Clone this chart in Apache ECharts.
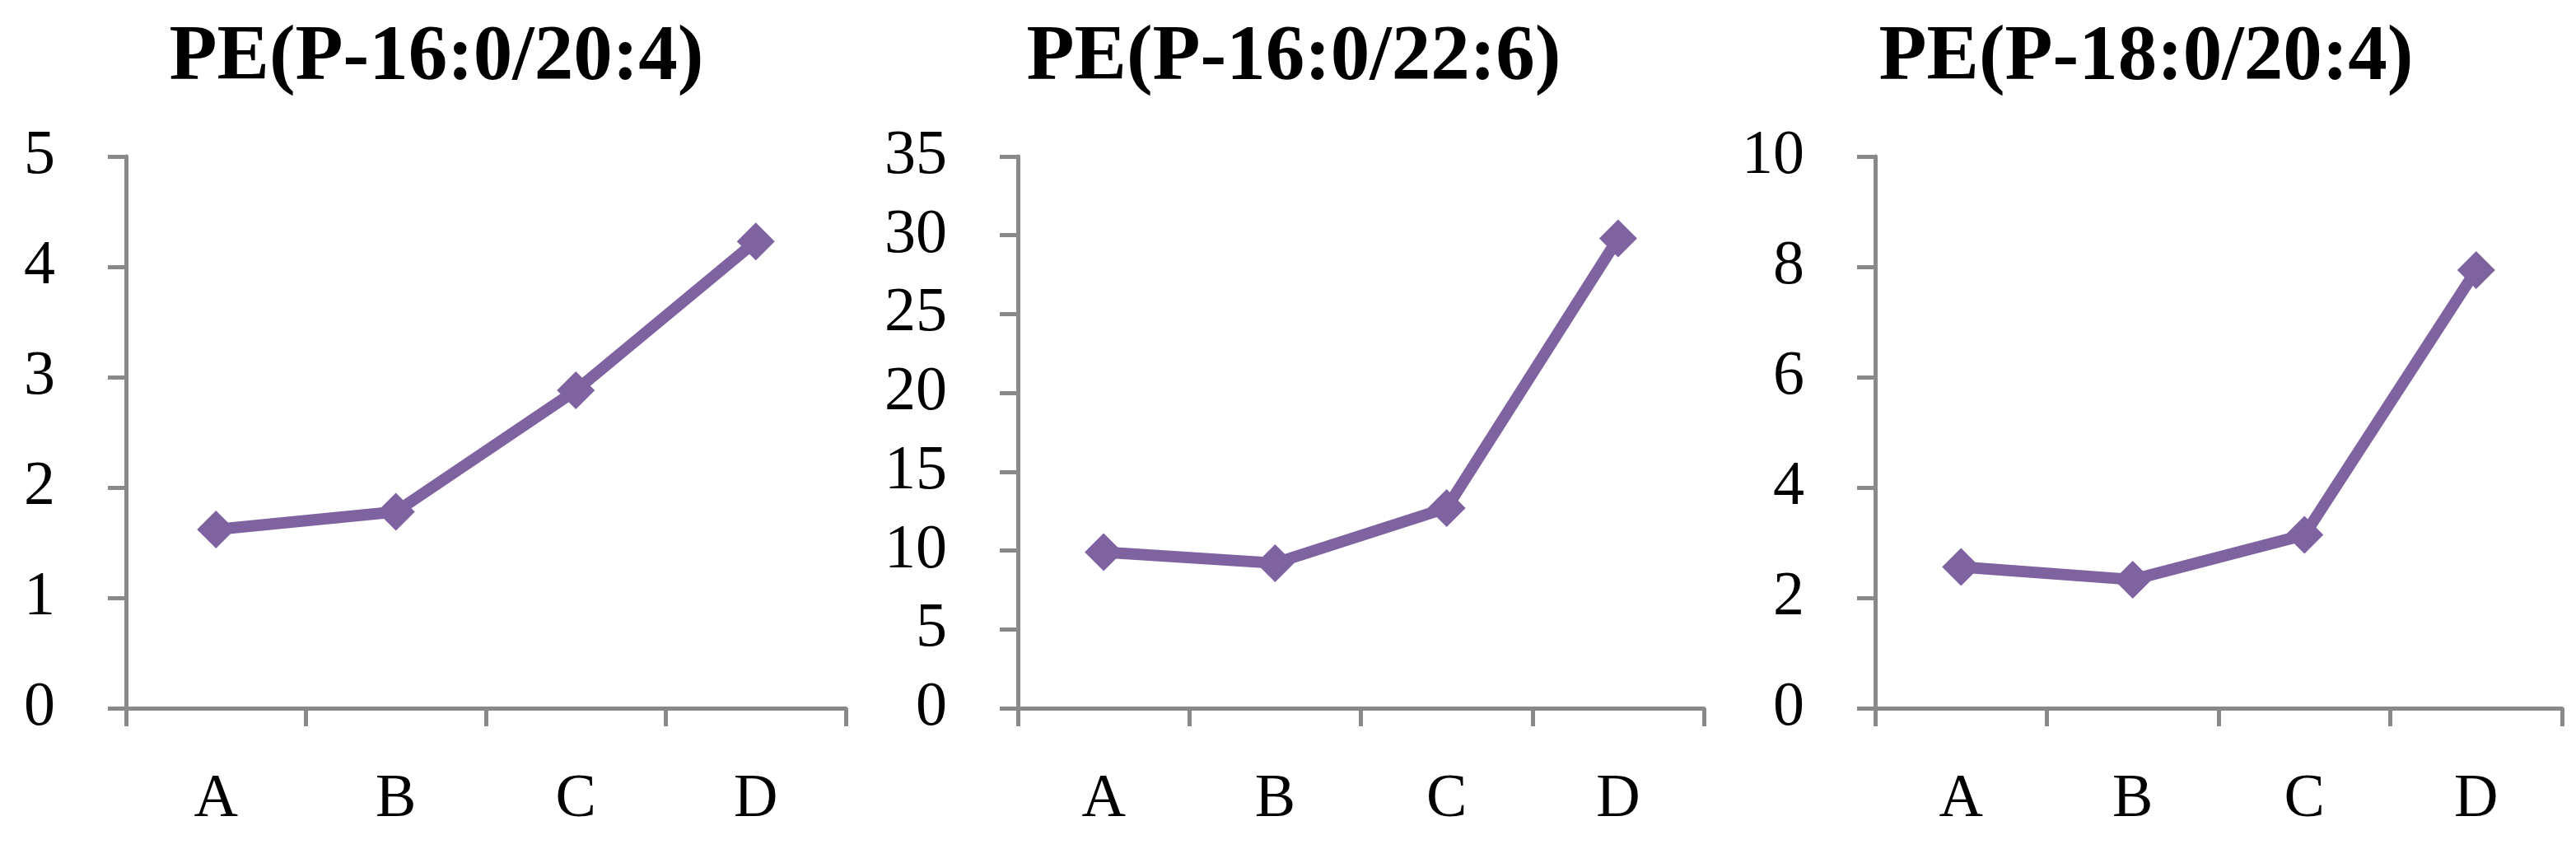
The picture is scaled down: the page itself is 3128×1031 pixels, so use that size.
<!DOCTYPE html>
<html>
<head>
<meta charset="utf-8">
<script src="https://cdn.jsdelivr.net/npm/echarts@6/dist/echarts.min.js"></script>
<style>html,body{margin:0;padding:0;background:#fff;}#c{width:3128px;height:1031px;}</style>
</head>
<body>
<div id="c"></div>
<script>
var categories = ['A', 'B', 'C', 'D'];
var titles = ['PE(P-16:0/20:4)', 'PE(P-16:0/22:6)', 'PE(P-18:0/20:4)'];
var values1 = [1.62, 1.78, 2.88, 4.23];
var values2 = [9.9, 9.2, 12.7, 29.8];
var values3 = [2.56, 2.33, 3.14, 7.94];
var yMax = [5, 35, 10];
var yStep = [1, 5, 2];

var seriesValues = [values1, values2, values3];
var gridLeft = [153, 1236, 2277];
var gridRight = [1027, 2069, 3111];
var titleX = [530, 1571, 2606];
var gridTop = 190, gridBottom = 860;
var axisColor = '#898989';
var lineColor = '#7f63a1';
var serif = '"Liberation Serif", "Times New Roman", serif';

var grids = [], xAxes = [], yAxes = [], series = [], graphics = [];
for (var i = 0; i < 3; i++) {
  grids.push({left: gridLeft[i], width: gridRight[i] - gridLeft[i], top: gridTop, height: gridBottom - gridTop, containLabel: false});
  xAxes.push({
    type: 'category', gridIndex: i, data: categories, boundaryGap: true,
    axisLine: {show: true, lineStyle: {color: axisColor, width: 5}},
    axisTick: {show: true, length: 22, lineStyle: {color: axisColor, width: 5}},
    axisLabel: {color: '#000', fontFamily: serif, fontSize: 74, margin: 75},
    splitLine: {show: false}
  });
  yAxes.push({
    type: 'value', gridIndex: i, min: 0, max: yMax[i], interval: yStep[i],
    axisLine: {show: true, lineStyle: {color: axisColor, width: 5}},
    axisTick: {show: true, length: 22, lineStyle: {color: axisColor, width: 5}},
    axisLabel: {color: '#000', fontFamily: serif, fontSize: 76, margin: 86},
    splitLine: {show: false}
  });
  series.push({
    type: 'line', xAxisIndex: i, yAxisIndex: i, data: seriesValues[i],
    symbol: 'diamond', symbolSize: 46, showSymbol: true,
    lineStyle: {color: lineColor, width: 14},
    itemStyle: {color: lineColor},
    animation: false
  });
  graphics.push({
    type: 'text', x: titleX[i], y: 24,
    style: {text: titles[i], fill: '#000', font: 'bold 95px ' + serif, align: 'center', verticalAlign: 'top'}
  });
}

var chart = echarts.init(document.getElementById('c'));
chart.setOption({
  backgroundColor: '#fff',
  animation: false,
  grid: grids, xAxis: xAxes, yAxis: yAxes, series: series,
  graphic: graphics
});
</script>
</body>
</html>
